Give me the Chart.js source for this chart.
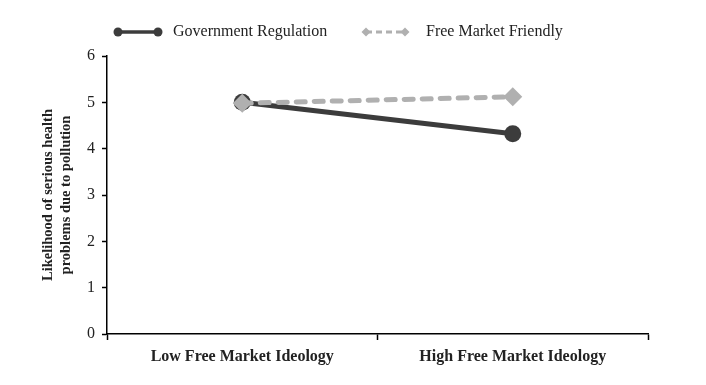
<!DOCTYPE html>
<html><head><meta charset="utf-8">
<script src="https://cdn.jsdelivr.net/npm/chart.js@4/dist/chart.umd.min.js"></script>
<style>html,body{margin:0;padding:0;background:#fff}#wrap{width:706px;height:385px}</style>
</head><body><div id="wrap"><canvas id="c" width="706" height="385"></canvas></div>
<script>
const categories = ["Low Free Market Ideology", "High Free Market Ideology"];
const govRegulation = [5.0, 4.32];
const freeMarketFriendly = [4.98, 5.12];
const seriesNames = ["Government Regulation", "Free Market Friendly"];
const yTitle = ["Likelihood of serious health", "problems due to pollution"];
const FONT = "'Liberation Serif', 'DejaVu Serif', serif";

const legendPlugin = {
  id: 'customLegend',
  afterDraw(chart) {
    const ctx = chart.ctx;
    ctx.save();
    const y = 32;
    ctx.strokeStyle = '#3c3c3c'; ctx.lineWidth = 3.5; ctx.setLineDash([]);
    ctx.beginPath(); ctx.moveTo(118, y); ctx.lineTo(158, y); ctx.stroke();
    ctx.fillStyle = '#3c3c3c';
    [118, 158].forEach(x => { ctx.beginPath(); ctx.arc(x, y, 4.5, 0, Math.PI*2); ctx.fill(); });
    ctx.strokeStyle = '#b0b0b0'; ctx.lineWidth = 3; ctx.setLineDash([6, 4]);
    ctx.beginPath(); ctx.moveTo(366, y); ctx.lineTo(405, y); ctx.stroke();
    ctx.setLineDash([]);
    ctx.fillStyle = '#b0b0b0';
    [366, 405].forEach(x => { ctx.beginPath(); ctx.moveTo(x, y-4.5); ctx.lineTo(x+4.5, y); ctx.lineTo(x, y+4.5); ctx.lineTo(x-4.5, y); ctx.closePath(); ctx.fill(); });
    ctx.fillStyle = '#222';
    ctx.font = "16px " + FONT;
    ctx.textBaseline = 'middle';
    ctx.fillText(seriesNames[0], 173, y);
    ctx.fillText(seriesNames[1], 426, y);
    ctx.restore();
  }
};

new Chart(document.getElementById('c'), {
  type: 'line',
  data: {
    labels: categories,
    datasets: [
      { label: seriesNames[0], data: govRegulation, borderColor: '#3c3c3c', backgroundColor: '#3c3c3c', order: 1,
        borderWidth: 5, pointRadius: 8.5, pointStyle: 'circle', pointBorderWidth: 0, fill: false, tension: 0 },
      { label: seriesNames[1], data: freeMarketFriendly, borderColor: '#b0b0b0', backgroundColor: '#b0b0b0', order: 0,
        borderWidth: 5, borderDash: [9, 9], borderCapStyle: 'round', pointRadius: 9.5, pointStyle: 'rectRot', pointBorderWidth: 0, fill: false, tension: 0 }
    ]
  },
  options: {
    responsive: false,
    animation: false,
    devicePixelRatio: 1,
    layout: { padding: { left: 0, right: 58, top: 56, bottom: 0 } },
    plugins: { legend: { display: false }, tooltip: { enabled: false } },
    scales: {
      x: {
        type: 'category',
        offset: true,
        grid: { offset: true, drawOnChartArea: false, drawTicks: true, tickLength: 6, color: '#000', tickWidth: 1.5 },
        border: { color: '#000', width: 1.5 },
        ticks: { color: '#222', font: { family: FONT, size: 16, weight: 'bold' }, padding: 7, maxRotation: 0 },
        afterFit(s) { s.height = 51; }
      },
      y: {
        min: 0, max: 6,
        ticks: { stepSize: 1, color: '#222', font: { family: FONT, size: 16 }, padding: 7 },
        grid: { drawOnChartArea: false, drawTicks: true, tickLength: 5, color: '#000', tickWidth: 1.5 },
        border: { color: '#000', width: 1.5 },
        title: { display: true, text: yTitle, color: '#222', font: { family: FONT, size: 14.5, weight: 'bold', lineHeight: 1.2 }, padding: { top: 40, bottom: 0 } },
        afterFit(s) { s.width = 107; }
      }
    }
  },
  plugins: [legendPlugin]
});
</script>
</body></html>
